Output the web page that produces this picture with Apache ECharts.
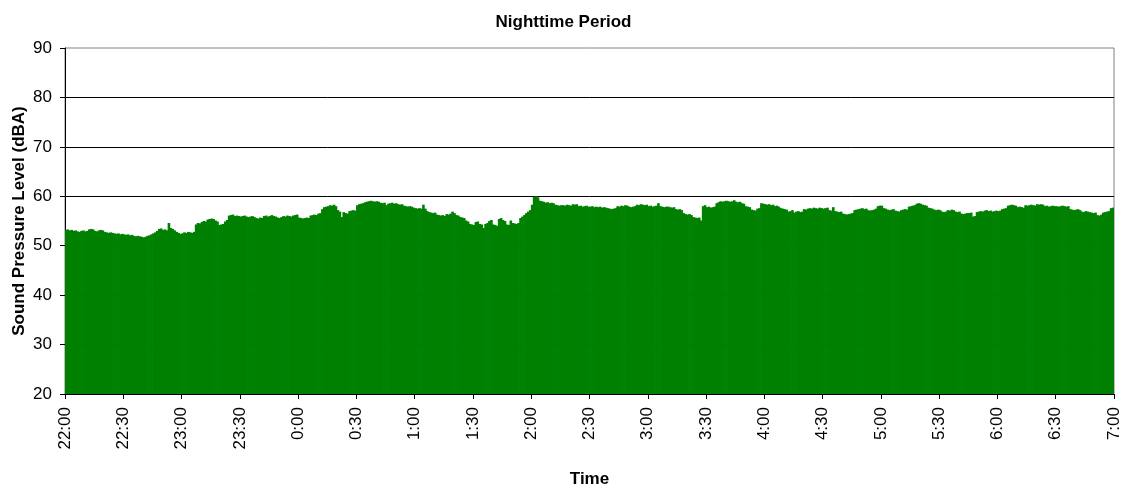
<!DOCTYPE html>
<html>
<head>
<meta charset="utf-8">
<title>Nighttime Period</title>
<script src="https://cdn.jsdelivr.net/npm/echarts@6/dist/echarts.min.js"></script>
<style>
  html, body { margin: 0; padding: 0; background: #fff; }
  #chart { width: 1127px; height: 491px; }
</style>
</head>
<body>
<div id="chart"></div>
<script>
// One-minute sound pressure levels (dBA), one array per clock hour.
const hour22 = [
  53.2,53.3,53.1,53.2,53.0,53.1,52.9,52.8,53.0,53.1,52.9,53.0,53.3,53.4,53.3,53.0,52.9,53.1,53.2,53.1,52.8,52.7,52.6,52.7,52.6,52.5,52.4,52.5,52.3,52.4,
  52.3,52.2,52.3,52.1,52.2,52.0,51.9,52.0,51.9,51.8,51.7,51.8,52.0,52.1,52.3,52.5,52.7,53.0,53.4,53.5,53.2,53.3,53.1,54.6,53.6,53.4,53.1,52.8,52.6,52.4
];
const hour23 = [
  52.5,52.7,52.6,52.8,52.7,52.6,52.8,54.3,54.6,54.5,54.8,55.0,54.9,55.3,55.4,55.5,55.4,55.1,54.9,54.2,54.3,54.4,54.9,55.2,56.1,56.2,56.3,56.0,56.1,56.0,
  55.9,56.0,56.1,55.9,55.8,55.9,56.0,55.8,55.6,55.5,55.7,55.6,56.0,56.1,55.9,56.0,56.2,56.0,55.9,55.7,55.6,55.8,56.0,55.9,56.1,56.0,55.9,56.1,56.2,56.3
];
const hour00 = [
  55.7,55.6,55.5,55.6,55.7,55.6,56.1,56.2,56.3,56.2,56.5,56.6,57.4,57.8,57.9,58.0,58.2,58.1,58.3,58.0,57.2,56.9,55.8,56.8,56.6,56.5,57.0,57.1,57.2,57.1,
  58.2,58.4,58.5,58.6,58.8,58.9,59.0,59.1,59.0,58.9,59.0,58.9,58.7,58.6,58.7,58.2,58.5,58.6,58.7,58.5,58.6,58.4,58.3,58.4,58.1,58.0,57.9,58.0,57.9,57.7
];
const hour01 = [
  57.6,57.5,57.6,57.5,58.3,57.5,57.0,56.8,56.7,56.6,56.7,56.3,56.2,56.1,56.2,56.0,56.4,56.3,56.5,56.9,56.6,56.2,56.1,55.8,55.7,55.6,55.1,54.9,54.4,54.3,
  54.2,54.8,54.9,54.4,54.3,53.6,54.4,54.6,55.0,55.2,54.3,54.2,54.0,55.4,55.6,55.2,55.0,54.3,54.2,55.1,54.6,54.5,54.4,54.6,55.6,55.9,56.2,56.6,56.9,57.2
];
const hour02 = [
  58.3,59.9,60.0,59.8,59.1,59.0,58.9,58.7,58.8,58.6,58.7,58.6,58.3,58.2,58.1,58.2,58.2,58.1,58.3,58.2,58.1,58.4,58.3,58.4,58.0,58.1,57.9,58.0,58.1,57.9,
  57.9,58.0,57.8,57.9,57.8,57.9,57.7,57.8,57.7,57.6,57.5,57.4,57.5,57.6,58.0,57.9,58.1,58.0,58.2,58.1,57.9,57.8,57.9,58.0,58.3,58.2,58.4,58.3,58.2,58.3
];
const hour03 = [
  58.0,58.1,57.9,58.0,58.1,58.6,58.0,57.9,57.8,57.9,57.9,57.8,57.7,57.8,57.4,57.3,57.4,57.2,56.6,56.4,56.3,56.4,56.2,55.8,55.7,55.6,55.7,55.1,58.0,58.2,
  57.8,57.9,57.7,57.8,57.9,58.6,58.8,59.0,58.9,59.0,59.1,59.0,58.9,59.0,59.2,58.9,58.8,58.9,58.6,58.5,58.0,57.9,57.8,57.3,57.2,57.1,57.5,57.6,58.6,58.5
];
const hour04 = [
  58.4,58.3,58.4,58.2,58.3,58.0,58.1,57.9,57.6,57.5,57.4,57.3,56.9,57.0,57.2,56.7,56.9,57.0,56.8,56.9,57.4,57.3,57.5,57.6,57.5,57.7,57.6,57.5,57.7,57.6,
  57.5,57.6,57.7,57.2,57.1,57.8,57.0,56.9,56.8,56.9,56.5,56.4,56.3,56.4,56.5,56.6,57.2,57.3,57.4,57.5,57.6,57.4,57.5,57.2,57.1,57.2,57.3,57.5,58.0,58.1
];
const hour05 = [
  58.1,57.6,57.5,57.3,57.2,57.3,57.4,57.1,57.0,56.9,57.2,57.3,57.4,57.3,57.9,58.0,58.1,58.2,58.5,58.6,58.5,58.3,58.2,58.1,57.7,57.6,57.5,57.3,57.2,57.3,
  57.2,56.9,56.8,56.9,57.2,57.1,57.3,57.2,56.9,56.8,56.9,56.5,56.4,56.5,56.6,56.6,56.7,55.9,56.0,56.8,56.9,57.0,56.9,57.1,57.2,57.0,57.1,56.9,57.0,57.1
];
const hour06 = [
  57.0,57.1,57.4,57.5,57.6,58.1,58.2,58.3,58.2,58.1,57.8,57.9,57.8,57.7,58.2,58.1,58.2,58.3,58.2,58.1,58.4,58.3,58.4,58.3,58.0,58.1,57.9,58.0,58.1,58.0,
  58.0,57.9,58.0,58.1,58.0,57.9,58.0,57.4,57.3,57.2,57.3,57.4,57.2,56.9,56.8,57.0,56.9,56.8,56.7,56.6,56.7,56.2,56.1,56.3,56.7,56.8,56.9,57.0,57.6,57.7
];

// Tick labels every half hour, 22:00 through 7:00.
const tickLabels = [
  '22:00','22:30','23:00','23:30','0:00','0:30','1:00','1:30','2:00',
  '2:30','3:00','3:30','4:00','4:30','5:00','5:30','6:00','6:30','7:00'
];

const startHour = 22;
const levels = [].concat(hour22, hour23, hour00, hour01, hour02, hour03, hour04, hour05, hour06);

// Minute-by-minute category names (22:00, 22:01, ...).
const minutes = levels.map(function (_, i) {
  const h = (startHour + Math.floor(i / 60)) % 24;
  const m = i % 60;
  return h + ':' + (m < 10 ? '0' : '') + m;
});

const FONT = '"Liberation Sans", Arial, Helvetica, sans-serif';
const LABEL_SIZE = 17;

const chart = echarts.init(document.getElementById('chart'), null, { renderer: 'canvas' });

chart.setOption({
  animation: false,
  backgroundColor: '#ffffff',
  title: {
    text: 'Nighttime Period',
    left: 'center',
    top: 9,
    textStyle: { fontFamily: FONT, fontSize: LABEL_SIZE, fontWeight: 'bold', color: '#000' }
  },
  grid: {
    left: 65,
    right: 13,
    top: 48,
    bottom: 97,
    outerBoundsMode: 'none',
    containLabel: false,
    show: true,
    borderColor: '#808080',
    borderWidth: 1,
    backgroundColor: '#ffffff'
  },
  xAxis: [
    {
      type: 'category',
      data: minutes,
      boundaryGap: true,
      axisLine: { show: true, lineStyle: { color: '#000', width: 1 } },
      axisTick: { show: false },
      axisLabel: { show: false },
      splitLine: { show: false }
    },
    {
      type: 'value',
      position: 'bottom',
      min: 0,
      max: levels.length,
      interval: 30,
      name: 'Time',
      nameLocation: 'middle',
      nameGap: 77,
      nameTextStyle: { fontFamily: FONT, fontSize: LABEL_SIZE, fontWeight: 'bold', color: '#000' },
      axisLine: { show: false },
      axisTick: { show: true, inside: false, length: 5, lineStyle: { color: '#000' } },
      axisLabel: {
        rotate: 90,
        margin: 13,
        fontFamily: FONT,
        fontSize: LABEL_SIZE,
        color: '#000',
        formatter: function (v) { return tickLabels[Math.round(v / 30)]; }
      },
      splitLine: { show: false }
    }
  ],
  yAxis: {
    type: 'value',
    min: 20,
    max: 90,
    interval: 10,
    name: 'Sound Pressure Level (dBA)',
    nameLocation: 'middle',
    nameGap: 37,
    nameMoveOverlap: false,
    nameTextStyle: { fontFamily: FONT, fontSize: LABEL_SIZE, fontWeight: 'bold', color: '#000' },
    axisLine: { show: true, lineStyle: { color: '#000', width: 1 } },
    axisTick: { show: true, inside: false, length: 5, lineStyle: { color: '#000' } },
    axisLabel: { margin: 13, fontFamily: FONT, fontSize: LABEL_SIZE, color: '#000' },
    splitLine: { show: true, showMinLine: false, showMaxLine: false, lineStyle: { color: '#000', width: 1 } }
  },
  series: [
    {
      type: 'bar',
      xAxisIndex: 0,
      data: levels,
      // slightly wider than the band so neighbouring bars overlap and leave no seams
      barWidth: '135%',
      itemStyle: { color: '#008000' },
      silent: true
    }
  ]
});
</script>
</body>
</html>
